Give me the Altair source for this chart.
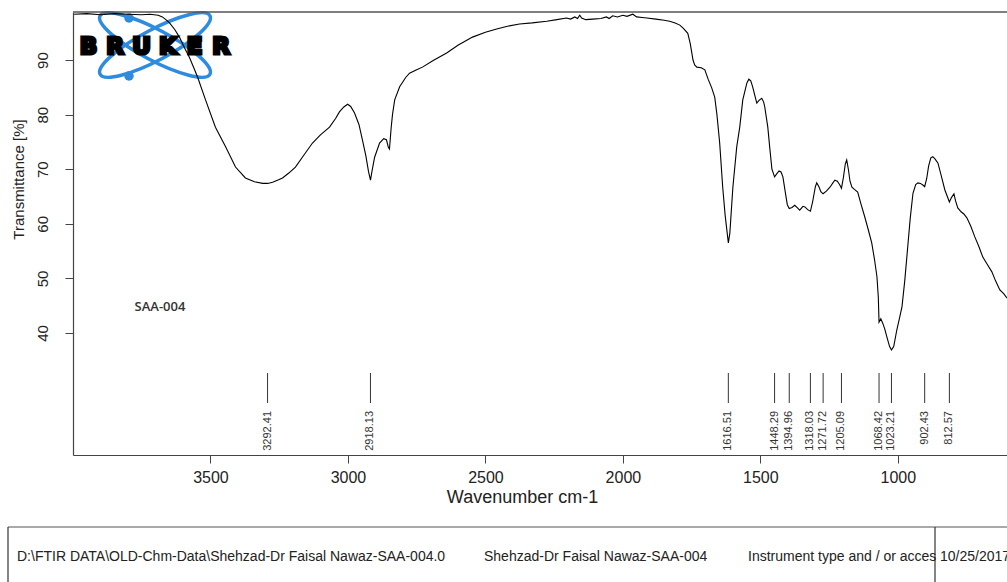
import altair as alt
import pandas as pd

# FTIR spectrum of sample SAA-004 (wavenumber in cm-1, transmittance in %)
WAVENUMBER = [
    3996, 3950, 3900, 3850, 3800, 3750, 3720, 3690, 3675, 3660, 3649, 3630, 3613,
    3595, 3576, 3560, 3547, 3518, 3482, 3445, 3409, 3373, 3340, 3310, 3292, 3274,
    3250, 3238, 3215, 3191, 3160, 3129, 3100, 3067, 3045, 3031, 3015, 3001, 2990,
    2976, 2960, 2947, 2935, 2925, 2918, 2912, 2903, 2885, 2870, 2860, 2853, 2849,
    2843, 2838, 2830, 2812, 2790, 2776, 2750, 2729, 2690, 2641, 2600, 2547, 2500,
    2459, 2420, 2376, 2330, 2277, 2240, 2205, 2190, 2175, 2165, 2157, 2150, 2135,
    2110, 2080, 2060, 2050, 2037, 2020, 2000, 1985, 1964, 1950, 1930, 1913, 1880,
    1850, 1830, 1810, 1793, 1780, 1764, 1755, 1745, 1739, 1731, 1715, 1702, 1690,
    1677, 1666, 1658, 1648, 1637, 1628, 1622, 1616.5, 1611, 1600, 1586, 1575, 1564,
    1549, 1542, 1535, 1528, 1520, 1513, 1505, 1495, 1488, 1484, 1473, 1465, 1458,
    1448.3, 1440, 1432, 1425, 1418, 1410, 1402, 1395, 1385, 1375, 1365, 1357, 1345,
    1338, 1328, 1318, 1310, 1300, 1295, 1287, 1280, 1272, 1260, 1247, 1235, 1229,
    1220, 1212, 1205, 1198, 1191, 1186, 1180, 1174, 1167, 1158, 1146, 1135, 1120,
    1108, 1095, 1085, 1076, 1071, 1068.4, 1062, 1055, 1048, 1040, 1030, 1023.2,
    1015, 1004, 995, 985, 975, 964, 955, 945, 935, 927, 918, 909, 902.4, 895, 888,
    880, 873, 865, 854, 842, 829, 820, 812.6, 805, 796, 790, 782, 770, 760, 749,
    735, 720, 705, 691, 675, 658, 645, 629, 615, 603,
]
TRANSMITTANCE = [
    98.4, 98.5, 98.3, 98.5, 98.4, 98.3, 98.4, 98.2, 97.9, 97.3, 96.8, 95.6, 94.2,
    92.3, 90.4, 88.5, 86.9, 82.7, 77.7, 74.1, 70.4, 68.4, 67.7, 67.4, 67.4, 67.6,
    68.1, 68.4, 69.3, 70.4, 72.6, 74.8, 76.3, 77.7, 79.3, 80.5, 81.4, 81.9, 81.5,
    80.3, 78.2, 75.3, 72.5, 69.5, 68.0, 69.8, 72.2, 74.8, 75.6, 75.4, 74.0, 73.7,
    77.5, 80.0, 82.7, 85.1, 86.8, 87.6, 88.2, 88.7, 89.9, 91.3, 92.7, 94.2, 95.1,
    95.7, 96.2, 96.6, 96.8, 97.1, 97.4, 97.7, 97.5, 97.9, 97.6, 98.2, 97.7, 97.4,
    97.5, 97.6, 97.9, 97.6, 98.1, 97.9, 98.2, 98.0, 98.4, 97.9, 97.8, 97.7, 97.5,
    97.3, 97.1, 96.8, 96.4, 95.8, 94.9, 93.0, 90.0, 89.1, 88.7, 88.6, 88.2, 86.5,
    84.9, 83.2, 80.0, 74.8, 66.7, 61.5, 58.9, 56.5, 58.3, 66.7, 74.1, 77.7, 82.7,
    85.8, 86.5, 86.2, 85.1, 83.5, 82.1, 82.6, 83.0, 82.3, 81.4, 77.7, 73.5, 70.0,
    68.6, 69.2, 69.7, 69.5, 68.6, 66.0, 63.5, 62.8, 63.0, 63.4, 62.9, 62.5, 63.2,
    63.1, 62.6, 62.3, 64.0, 66.8, 67.5, 66.8, 65.9, 65.5, 66.0, 66.7, 67.6, 68.0,
    67.8, 67.2, 66.5, 68.5, 71.0, 71.7, 70.0, 67.8, 66.7, 66.3, 65.8, 63.8, 61.2,
    59.0, 56.5, 53.5, 50.3, 46.5, 42.0, 42.6, 41.8, 40.8, 39.3, 37.5, 36.9,
    37.5, 40.5, 42.5, 44.8, 49.5, 55.8, 61.0, 65.6, 67.2, 67.5, 67.4, 67.1, 66.8, 68.3, 70.6,
    72.1, 72.3, 71.9, 71.1, 68.8, 66.2, 65.0, 64.0, 64.8, 65.5, 64.2, 62.9, 62.2, 61.8, 61.1,
    59.6, 57.6, 55.8, 53.9, 52.6, 51.2, 49.6, 47.9, 47.2, 46.4,
]

# Picked band positions (cm-1)
PEAK_POSITIONS = [3292.41, 2918.13, 1616.51, 1448.29, 1394.96, 1318.03,
                  1271.72, 1205.09, 1068.42, 1023.21, 902.43, 812.57]

X_TICKS = [3500, 3000, 2500, 2000, 1500, 1000]
Y_TICKS = [40, 50, 60, 70, 80, 90]

SAMPLE_NAME = "SAA-004"
FOOTER_TEXTS = [
    "D:\\FTIR DATA\\OLD-Chm-Data\\Shehzad-Dr Faisal Nawaz-SAA-004.0",
    "Shehzad-Dr Faisal Nawaz-SAA-004",
    "Instrument type and / or acces",
    "10/25/2017",
]
FOOTER_X = [-56, 411, 675, 867]
LOGO_LETTERS = ["B", "R", "U", "K", "E", "R"]

W, H = 934, 443
X_DOMAIN = [603, 4000]
Y_DOMAIN = [17.65, 98.8]
FONT = "Liberation Sans, Arial, sans-serif"

spectrum = pd.DataFrame({"wn": WAVENUMBER, "t": TRANSMITTANCE})
peaks = pd.DataFrame({"wn": PEAK_POSITIONS,
                      "label": [f"{p:.2f}" for p in PEAK_POSITIONS]})
one = pd.DataFrame({"k": [0]})

x_scale = alt.Scale(domain=X_DOMAIN, reverse=True, nice=False, zero=False)
y_scale = alt.Scale(domain=Y_DOMAIN, nice=False, zero=False)

x_axis = alt.Axis(
    values=X_TICKS, format="d", title="Wavenumber cm-1", grid=False,
    domainColor="#444", domainWidth=1.2, tickColor="#444", tickSize=8,
    labelFont=FONT, labelFontSize=16, labelColor="#222", labelPadding=6,
    labelBaseline="top", labelFlush=False, labelOverlap=False,
    titleFont=FONT, titleFontSize=18, titleFontWeight="normal", titleColor="#222",
    titleX=449, titleY=42, titleAlign="center", titleBaseline="middle",
)
y_axis = alt.Axis(
    values=Y_TICKS, format="d", title="Transmittance [%]", grid=False,
    domainColor="#444", domainWidth=1.2, tickColor="#444", tickSize=8,
    labelFont=FONT, labelFontSize=15, labelColor="#222", labelPadding=15,
    labelAngle=270, labelAlign="center", labelBaseline="bottom",
    labelFlush=False, labelOverlap=False,
    titleFont=FONT, titleFontSize=15, titleFontWeight="normal", titleColor="#222",
    titleAngle=270, titleX=-55, titleY=167, titleAlign="center", titleBaseline="middle",
)

# Bruker logo: two crossed orbits, two electrons and heavy lettering
ellipse_path = "M -1 0 A 1 0.246 0 1 0 1 0 A 1 0.246 0 1 0 -1 0 Z"
orbits = [
    alt.Chart(one).mark_point(shape=ellipse_path, size=15500, angle=a, filled=False,
                              stroke="#2d8be0", strokeWidth=3.5, opacity=1)
    .encode(x=alt.value(82), y=alt.value(33))
    for a in (28, 332)
]
electrons = alt.Chart(pd.DataFrame({"px": [56, 56], "py": [6, 64]})).mark_point(
    shape="circle", size=90, filled=True, color="#2d8be0", opacity=1
).encode(x=alt.X("px:Q", scale=None), y=alt.Y("py:Q", scale=None))

letter_df = pd.DataFrame({"ch": LOGO_LETTERS,
                          "px": [15.5 + 26.5 * i for i in range(len(LOGO_LETTERS))]})
letters = alt.Chart(letter_df).mark_text(
    font="DejaVu Sans", fontWeight="bold", fontSize=23, fill="black",
    stroke="black", strokeWidth=3.2, strokeJoin="miter",
    align="center", baseline="middle"
).encode(x=alt.X("px:Q", scale=None), y=alt.value(35), text="ch:N")

line = alt.Chart(spectrum).mark_line(color="black", strokeWidth=1.1, clip=True).encode(
    x=alt.X("wn:Q", scale=x_scale, axis=x_axis),
    y=alt.Y("t:Q", scale=y_scale, axis=y_axis),
)

peak_ticks = alt.Chart(peaks).mark_rule(color="#333", strokeWidth=1).encode(
    x=alt.X("wn:Q", scale=x_scale), y=alt.value(361), y2=alt.value(391)
)
peak_labels = alt.Chart(peaks).mark_text(
    angle=270, align="right", baseline="middle", font=FONT, fontSize=11, color="#333"
).encode(x=alt.X("wn:Q", scale=x_scale), y=alt.value(399), text="label:N")

sample = alt.Chart(one).mark_text(
    text=SAMPLE_NAME, font="Open Sans", fontSize=13, fontWeight=600, color="#333",
    align="center", baseline="middle"
).encode(x=alt.value(87), y=alt.value(295))

top_edge = alt.Chart(one).mark_rule(color="#555", strokeWidth=1.5).encode(
    x=alt.value(0), x2=alt.value(W), y=alt.value(0)
)

# Footer strip with file information
footer_line = alt.Chart(one).mark_rule(color="#555", strokeWidth=1.2).encode(
    x=alt.value(-65), x2=alt.value(W), y=alt.value(515)
)
footer_sides = alt.Chart(pd.DataFrame({"px": [-65, 862]})).mark_rule(
    color="#333", strokeWidth=1.2
).encode(x=alt.X("px:Q", scale=None), y=alt.value(515), y2=alt.value(575))
footer_text = alt.Chart(pd.DataFrame({"txt": FOOTER_TEXTS, "px": FOOTER_X})).mark_text(
    font=FONT, fontSize=14, color="#222", align="left", baseline="middle"
).encode(x=alt.X("px:Q", scale=None), y=alt.value(545), text="txt:N")

chart = alt.layer(
    *orbits, electrons, letters, line, peak_ticks, peak_labels, sample,
    top_edge, footer_line, footer_sides, footer_text
).properties(
    width=W, height=H,
    autosize=alt.AutoSizeParams(type="none"),
    padding={"left": 73, "top": 12, "right": 0, "bottom": 127},
    background="white",
).configure_view(stroke=None)

chart.save("out.html", embed_options={"renderer": "svg", "actions": False})
